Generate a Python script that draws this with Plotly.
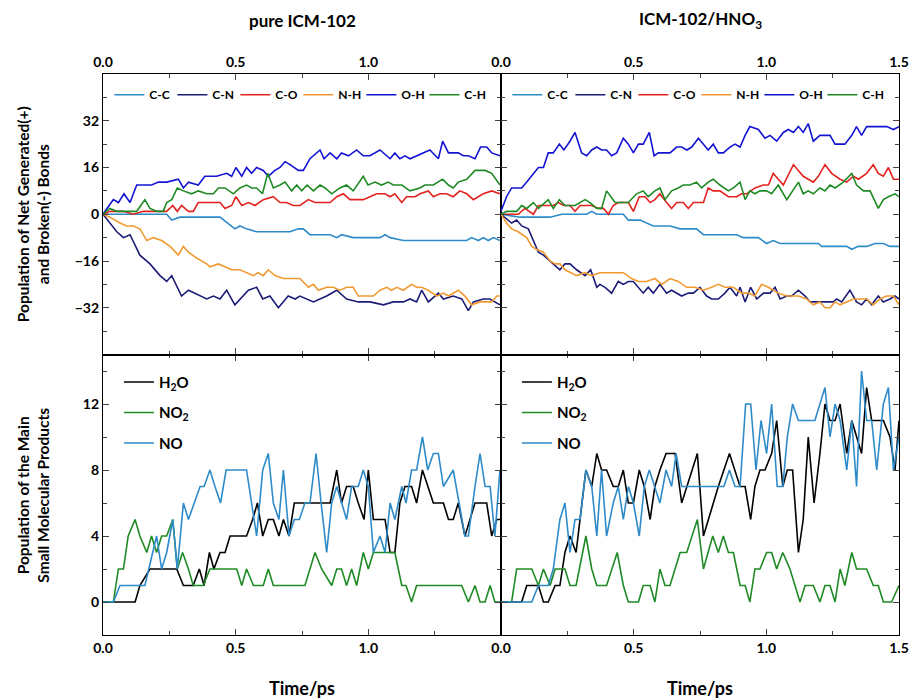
import plotly.graph_objects as go

# ---------------- data (time in ps, population) ----------------
BOND_NAMES = ["C-C", "C-N", "C-O", "N-H", "O-H", "C-H"]
BOND_COLORS = ["#2E8BC9", "#1C1C78", "#E3231F", "#F09A30", "#1414D2", "#1F8A24"]

PURE_CC = [(0,0),(0.240,0),(0.259,-2),(0.290,-1),(0.441,-1),(0.497,-5),(0.516,-4),(0.541,-5),(0.579,-6),(0.705,-6),(0.736,-5),(0.755,-5),(0.780,-7),(0.856,-7),(0.881,-8),(0.899,-7),(0.943,-8),(1.044,-8),(1.063,-7),(1.082,-8),(1.132,-9),(1.371,-9),(1.389,-8),(1.415,-9),(1.433,-8),(1.452,-9),(1.471,-8),(1.496,-9)]
PURE_CN = [(0,0),(0.026,-3),(0.052,-6),(0.077,-8),(0.102,-7),(0.139,-14),(0.177,-17),(0.215,-21),(0.240,-23),(0.259,-21),(0.296,-28),(0.322,-26),(0.366,-28),(0.391,-29),(0.416,-28),(0.441,-29),(0.466,-26),(0.497,-31),(0.548,-26),(0.579,-25),(0.602,-29),(0.629,-28),(0.661,-32),(0.698,-28),(0.724,-29),(0.742,-28),(0.793,-30),(0.843,-28),(0.881,-26),(0.918,-29),(0.962,-30),(1.006,-30),(1.057,-31),(1.094,-30),(1.132,-30),(1.157,-29),(1.182,-30),(1.201,-26),(1.226,-30),(1.264,-27),(1.283,-29),(1.320,-28),(1.352,-29),(1.377,-33),(1.396,-30),(1.433,-29),(1.458,-29),(1.496,-31)]
PURE_CO = [(0,0),(0.026,1),(0.052,1),(0.077,1),(0.114,0),(0.152,1),(0.190,1),(0.240,1),(0.263,3),(0.280,1),(0.296,3),(0.322,1),(0.340,1),(0.359,4),(0.403,4),(0.441,4),(0.460,2),(0.485,3),(0.501,6),(0.523,3),(0.548,4),(0.573,3),(0.604,5),(0.642,6),(0.667,4),(0.692,4),(0.717,3),(0.742,3),(0.774,5),(0.799,4),(0.824,4),(0.856,4),(0.881,6),(0.906,7),(0.931,5),(0.956,5),(0.981,5),(1.006,6),(1.031,7),(1.063,7),(1.082,6),(1.100,7),(1.126,4),(1.144,6),(1.176,6),(1.195,7),(1.226,8),(1.245,6),(1.270,7),(1.295,7),(1.320,6),(1.345,8),(1.371,7),(1.396,5),(1.433,7),(1.465,8),(1.496,7)]
PURE_NH = [(0,0),(0.026,-1),(0.064,-3),(0.089,-4),(0.114,-4),(0.139,-5),(0.165,-9),(0.190,-8),(0.221,-9),(0.253,-11),(0.284,-14),(0.303,-11),(0.322,-13),(0.353,-15),(0.391,-17),(0.403,-18),(0.435,-17),(0.460,-18),(0.485,-19),(0.516,-19),(0.541,-20),(0.567,-21),(0.585,-20),(0.604,-21),(0.623,-19),(0.648,-21),(0.680,-22),(0.705,-22),(0.742,-22),(0.774,-25),(0.793,-24),(0.812,-26),(0.843,-25),(0.868,-25),(0.893,-26),(0.918,-25),(0.943,-25),(0.962,-28),(0.994,-28),(1.019,-28),(1.044,-26),(1.069,-25),(1.088,-26),(1.107,-25),(1.132,-26),(1.163,-24),(1.182,-25),(1.201,-25),(1.226,-26),(1.258,-28),(1.283,-27),(1.302,-28),(1.339,-26),(1.364,-28),(1.389,-31),(1.421,-30),(1.465,-30),(1.484,-28),(1.496,-28)]
PURE_OH = [(0,0),(0.039,5),(0.058,4),(0.079,7),(0.102,4),(0.127,10),(0.146,10),(0.165,10),(0.183,10),(0.209,11),(0.240,11),(0.284,12),(0.303,9),(0.322,11),(0.359,10),(0.384,13),(0.428,13),(0.466,14),(0.485,13),(0.501,16),(0.523,13),(0.541,16),(0.560,14),(0.579,16),(0.604,15),(0.623,13),(0.648,15),(0.667,16),(0.686,18),(0.705,17),(0.736,15),(0.755,15),(0.780,19),(0.818,22),(0.833,19),(0.856,21),(0.881,19),(0.899,21),(0.925,20),(0.956,22),(0.981,20),(1.006,20),(1.044,22),(1.082,19),(1.100,21),(1.119,19),(1.138,20),(1.157,19),(1.182,20),(1.207,21),(1.232,22),(1.264,19),(1.280,25),(1.302,21),(1.339,21),(1.358,20),(1.377,20),(1.402,19),(1.423,23),(1.446,23),(1.465,21),(1.496,20)]
PURE_CH = [(0,0),(0.026,2),(0.052,1),(0.083,1),(0.102,1),(0.127,1),(0.158,5),(0.177,2),(0.202,1),(0.227,1),(0.240,4),(0.259,5),(0.280,9),(0.303,8),(0.334,7),(0.359,8),(0.391,7),(0.416,7),(0.435,9),(0.460,9),(0.491,7),(0.516,9),(0.541,10),(0.560,9),(0.579,9),(0.601,7),(0.621,14),(0.642,9),(0.667,10),(0.686,11),(0.711,8),(0.730,10),(0.749,8),(0.769,10),(0.793,8),(0.818,10),(0.837,9),(0.862,7),(0.893,9),(0.918,10),(0.943,8),(0.981,13),(0.999,10),(1.025,11),(1.050,10),(1.075,11),(1.094,10),(1.126,10),(1.157,8),(1.194,9),(1.213,10),(1.245,10),(1.280,12),(1.302,10),(1.320,9),(1.339,11),(1.371,12),(1.402,15),(1.440,15),(1.465,14),(1.496,10)]

HNO3_CC = [(0,0),(0.072,-1),(0.185,-1),(0.229,0),(0.323,0),(0.342,1),(0.361,0),(0.461,0),(0.480,-2),(0.524,-2),(0.574,-4),(0.637,-4),(0.675,-5),(0.737,-5),(0.763,-7),(0.888,-7),(0.913,-8),(0.970,-8),(1.001,-10),(1.026,-9),(1.052,-10),(1.196,-10),(1.209,-11),(1.303,-11),(1.322,-12),(1.347,-11),(1.378,-11),(1.410,-10),(1.441,-10),(1.466,-11),(1.500,-11)]
HNO3_CN = [(0,0),(0.028,-2),(0.040,-3),(0.059,-2),(0.078,-4),(0.103,-5),(0.122,-9),(0.141,-13),(0.160,-14),(0.185,-16),(0.210,-18),(0.222,-19),(0.241,-17),(0.260,-17),(0.285,-19),(0.317,-21),(0.338,-19),(0.361,-25),(0.373,-24),(0.392,-25),(0.417,-27),(0.442,-23),(0.461,-24),(0.480,-23),(0.499,-23),(0.536,-27),(0.555,-25),(0.574,-27),(0.599,-24),(0.624,-27),(0.643,-26),(0.662,-27),(0.681,-28),(0.706,-27),(0.725,-27),(0.750,-25),(0.775,-28),(0.794,-29),(0.819,-29),(0.844,-27),(0.863,-25),(0.888,-28),(0.901,-25),(0.920,-30),(0.941,-25),(0.964,-29),(0.989,-27),(1.014,-27),(1.033,-25),(1.052,-29),(1.077,-28),(1.095,-28),(1.121,-26),(1.146,-28),(1.165,-30),(1.253,-30),(1.265,-29),(1.284,-30),(1.315,-26),(1.340,-30),(1.359,-31),(1.378,-29),(1.397,-31),(1.422,-28),(1.441,-30),(1.466,-29),(1.485,-28),(1.500,-29)]
HNO3_CO = [(0,0),(0.040,0),(0.065,0),(0.090,2),(0.122,0),(0.141,3),(0.178,3),(0.197,3),(0.216,4),(0.237,3),(0.260,3),(0.279,1),(0.298,3),(0.317,3),(0.342,3),(0.367,2),(0.386,2),(0.405,0),(0.423,3),(0.442,4),(0.480,4),(0.499,1),(0.521,6),(0.543,6),(0.562,4),(0.580,5),(0.599,7),(0.624,4),(0.643,2),(0.662,4),(0.687,4),(0.706,2),(0.725,4),(0.763,4),(0.781,9),(0.800,8),(0.825,8),(0.857,6),(0.888,6),(0.907,7),(0.926,7),(0.957,9),(0.989,10),(1.008,10),(1.026,14),(1.045,12),(1.064,10),(1.102,17),(1.121,15),(1.139,13),(1.158,12),(1.177,11),(1.196,13),(1.221,17),(1.246,14),(1.278,12),(1.303,11),(1.328,13),(1.347,12),(1.378,14),(1.403,17),(1.422,14),(1.441,13),(1.460,16),(1.479,12),(1.500,12)]
HNO3_NH = [(0,0),(0.021,-3),(0.040,-5),(0.065,-6),(0.097,-8),(0.116,-11),(0.134,-12),(0.160,-13),(0.185,-16),(0.204,-17),(0.222,-17),(0.241,-19),(0.285,-21),(0.317,-20),(0.342,-21),(0.373,-20),(0.398,-20),(0.430,-20),(0.461,-20),(0.492,-22),(0.518,-23),(0.549,-23),(0.580,-22),(0.606,-24),(0.637,-22),(0.668,-23),(0.700,-25),(0.731,-25),(0.763,-26),(0.794,-25),(0.819,-24),(0.844,-25),(0.876,-25),(0.907,-27),(0.932,-27),(0.957,-28),(0.982,-24),(1.008,-25),(1.045,-27),(1.077,-28),(1.121,-28),(1.152,-29),(1.177,-31),(1.202,-30),(1.221,-32),(1.240,-32),(1.259,-30),(1.278,-31),(1.303,-30),(1.328,-29),(1.353,-29),(1.378,-29),(1.403,-31),(1.428,-29),(1.454,-28),(1.479,-28),(1.500,-31)]
HNO3_OH = [(0,1),(0.021,6),(0.040,9),(0.078,9),(0.097,11),(0.122,14),(0.141,16),(0.160,16),(0.178,21),(0.197,21),(0.220,24),(0.237,22),(0.260,25),(0.279,28),(0.304,21),(0.323,20),(0.342,22),(0.361,23),(0.379,22),(0.398,22),(0.417,20),(0.436,21),(0.461,26),(0.480,24),(0.499,21),(0.518,24),(0.536,24),(0.559,28),(0.577,20),(0.593,21),(0.637,21),(0.662,23),(0.681,23),(0.700,22),(0.719,23),(0.744,26),(0.763,24),(0.781,22),(0.800,24),(0.819,21),(0.838,21),(0.863,23),(0.882,24),(0.901,23),(0.920,27),(0.938,30),(0.970,29),(0.995,26),(1.014,27),(1.039,25),(1.064,28),(1.083,29),(1.102,28),(1.121,30),(1.139,28),(1.158,31),(1.177,25),(1.202,27),(1.221,27),(1.240,27),(1.259,24),(1.296,24),(1.322,27),(1.340,30),(1.359,27),(1.378,30),(1.454,30),(1.479,29),(1.500,30)]
HNO3_CH = [(0,0),(0.021,1),(0.059,1),(0.078,3),(0.097,2),(0.122,4),(0.141,2),(0.178,5),(0.197,2),(0.220,5),(0.241,3),(0.279,3),(0.317,5),(0.335,4),(0.361,2),(0.379,2),(0.398,8),(0.430,4),(0.480,4),(0.511,7),(0.536,8),(0.555,6),(0.580,8),(0.599,9),(0.618,5),(0.643,8),(0.668,9),(0.687,10),(0.712,10),(0.737,11),(0.756,9),(0.781,11),(0.800,12),(0.825,10),(0.857,8),(0.876,9),(0.901,11),(0.920,5),(0.938,8),(0.957,7),(0.976,8),(1.001,8),(1.020,7),(1.045,10),(1.077,5),(1.121,11),(1.139,7),(1.158,8),(1.177,7),(1.202,9),(1.221,8),(1.240,10),(1.259,9),(1.290,11),(1.322,14),(1.340,10),(1.366,8),(1.391,8),(1.422,2),(1.441,5),(1.460,6),(1.485,7),(1.500,6)]

PRODUCT_NAMES = ["H<sub>2</sub>O", "NO<sub>2</sub>", "NO"]
PRODUCT_COLORS = ["#000000", "#1F8A24", "#2E8BC9"]

PURE_H2O = [(0,0),(0.121,0),(0.139,1),(0.177,2),(0.278,2),(0.303,1),(0.340,1),(0.363,2),(0.381,1),(0.401,3),(0.418,2),(0.441,3),(0.460,3),(0.479,4),(0.541,4),(0.564,5),(0.582,6),(0.602,4),(0.623,5),(0.642,5),(0.663,4),(0.680,5),(0.701,4),(0.721,6),(0.856,6),(0.881,8),(0.899,6),(0.918,7),(0.943,7),(0.962,6),(0.984,5),(1.000,8),(1.019,5),(1.063,5),(1.082,3),(1.100,3),(1.119,6),(1.138,7),(1.163,7),(1.182,6),(1.204,8),(1.245,6),(1.283,6),(1.302,5),(1.320,5),(1.339,6),(1.364,4),(1.402,6),(1.421,6),(1.446,6),(1.465,4),(1.484,5),(1.496,5)]
PURE_NO2 = [(0,0),(0.039,0),(0.058,2),(0.077,2),(0.095,4),(0.121,5),(0.139,4),(0.165,3),(0.183,4),(0.202,3),(0.221,4),(0.240,4),(0.263,5),(0.280,2),(0.300,3),(0.322,2),(0.340,1),(0.378,1),(0.403,2),(0.504,2),(0.523,1),(0.541,2),(0.567,1),(0.604,1),(0.623,2),(0.642,1),(0.761,1),(0.799,3),(0.824,2),(0.862,1),(0.881,2),(0.899,2),(0.918,1),(0.937,2),(0.956,1),(0.981,3),(1.000,2),(1.019,3),(1.100,3),(1.126,1),(1.142,1),(1.163,0),(1.182,1),(1.352,1),(1.377,0),(1.402,1),(1.421,0),(1.440,0),(1.459,1),(1.477,0),(1.496,0)]
PURE_NO = [(0,0),(0.039,0),(0.064,1),(0.158,1),(0.202,4),(0.221,2),(0.240,3),(0.263,5),(0.280,2),(0.303,6),(0.322,5),(0.366,7),(0.381,7),(0.403,8),(0.422,7),(0.443,6),(0.464,8),(0.541,8),(0.579,4),(0.602,8),(0.623,9),(0.642,6),(0.663,5),(0.680,8),(0.701,4),(0.721,5),(0.740,5),(0.761,6),(0.780,6),(0.803,9),(0.822,6),(0.843,3),(0.862,6),(0.881,7),(0.918,5),(0.937,7),(0.962,7),(0.981,8),(1.000,7),(1.019,3),(1.044,4),(1.063,3),(1.082,6),(1.100,5),(1.126,7),(1.142,6),(1.163,8),(1.182,8),(1.204,10),(1.224,8),(1.245,9),(1.264,9),(1.283,7),(1.320,8),(1.364,4),(1.377,4),(1.402,7),(1.421,9),(1.440,7),(1.459,7),(1.477,4),(1.496,8)]

HNO3_H2O = [(0,0),(0.078,0),(0.097,1),(0.141,1),(0.160,0),(0.178,0),(0.204,1),(0.222,1),(0.241,3),(0.260,4),(0.283,3),(0.298,5),(0.320,8),(0.342,7),(0.361,9),(0.379,8),(0.398,8),(0.423,7),(0.442,7),(0.461,8),(0.480,6),(0.499,6),(0.521,8),(0.540,7),(0.562,5),(0.580,7),(0.599,8),(0.622,9),(0.656,9),(0.681,6),(0.700,7),(0.740,9),(0.763,4),(0.781,5),(0.800,6),(0.819,7),(0.861,9),(0.882,8),(0.901,7),(0.920,7),(0.941,5),(0.957,7),(0.976,8),(0.995,8),(1.020,9),(1.039,11),(1.062,7),(1.079,8),(1.099,8),(1.121,3),(1.139,5),(1.158,10),(1.180,6),(1.202,9),(1.221,12),(1.240,11),(1.259,11),(1.278,12),(1.303,9),(1.322,11),(1.359,9),(1.378,13),(1.397,11),(1.441,11),(1.466,10),(1.485,8),(1.500,11)]
HNO3_NO2 = [(0,0),(0.040,0),(0.059,2),(0.116,2),(0.141,1),(0.160,2),(0.185,1),(0.204,2),(0.241,2),(0.260,1),(0.283,1),(0.320,4),(0.342,2),(0.361,1),(0.398,1),(0.438,3),(0.461,1),(0.480,0),(0.518,0),(0.536,1),(0.562,1),(0.580,0),(0.599,2),(0.618,1),(0.637,1),(0.675,3),(0.700,3),(0.740,5),(0.763,2),(0.798,4),(0.819,3),(0.838,4),(0.857,3),(0.876,3),(0.901,1),(0.920,1),(0.938,0),(0.957,2),(0.976,2),(1.001,3),(1.020,3),(1.039,2),(1.062,3),(1.089,2),(1.108,1),(1.127,0),(1.146,1),(1.177,1),(1.202,0),(1.221,1),(1.240,1),(1.259,0),(1.278,2),(1.296,1),(1.322,3),(1.340,2),(1.378,2),(1.403,1),(1.422,1),(1.441,0),(1.472,0),(1.500,1)]
HNO3_NO = [(0,0),(0.116,0),(0.141,1),(0.178,1),(0.197,2),(0.222,5),(0.241,6),(0.260,3),(0.279,5),(0.298,5),(0.320,8),(0.342,7),(0.361,4),(0.379,8),(0.398,4),(0.423,6),(0.442,7),(0.461,5),(0.480,7),(0.499,6),(0.521,4),(0.540,7),(0.559,8),(0.580,7),(0.599,6),(0.622,8),(0.643,7),(0.660,9),(0.681,7),(0.819,7),(0.840,7),(0.861,8),(0.882,7),(0.901,7),(0.922,12),(0.941,12),(0.961,8),(0.980,11),(1.001,9),(1.020,12),(1.041,7),(1.062,7),(1.079,10),(1.099,12),(1.121,11),(1.183,11),(1.221,13),(1.240,10),(1.259,12),(1.278,11),(1.303,8),(1.322,11),(1.340,7),(1.359,14),(1.378,11),(1.397,11),(1.416,8),(1.441,12),(1.460,13),(1.479,8),(1.500,10)]

PANEL_TITLES = ["pure ICM-102", "ICM-102/HNO<sub>3</sub>"]
X_TICKS_LEFT = [0.0, 0.5, 1.0]
X_TICKS_RIGHT = [0.0, 0.5, 1.0, 1.5]
BOND_TICKS = [-32, -16, 0, 16, 32]
PROD_TICKS = [0, 4, 8, 12]

FONT = "Lato"

fig = go.Figure()

def add_series(pairs, name, color, xa, ya, leg, group):
    fig.add_trace(go.Scatter(
        x=[p[0] for p in pairs], y=[p[1] for p in pairs], mode="lines", name=name,
        line=dict(color=color, width=1.6), xaxis=xa, yaxis=ya, legend=leg,
        legendgroup=group))

for name, color, d in zip(BOND_NAMES, BOND_COLORS,
                          [PURE_CC, PURE_CN, PURE_CO, PURE_NH, PURE_OH, PURE_CH]):
    add_series(d, name, color, "x3", "y3", "legend", "a" + name)
for name, color, d in zip(BOND_NAMES, BOND_COLORS,
                          [HNO3_CC, HNO3_CN, HNO3_CO, HNO3_NH, HNO3_OH, HNO3_CH]):
    add_series(d, name, color, "x4", "y4", "legend2", "b" + name)
for name, color, d in zip(PRODUCT_NAMES, PRODUCT_COLORS, [PURE_H2O, PURE_NO2, PURE_NO]):
    add_series(d, name, color, "x", "y", "legend3", "c" + name)
for name, color, d in zip(PRODUCT_NAMES, PRODUCT_COLORS, [HNO3_H2O, HNO3_NO2, HNO3_NO]):
    add_series(d, name, color, "x2", "y2", "legend4", "d" + name)

tickfont = dict(family=FONT, size=14, color="black", weight="bold")

def xax(domain, anchor, ticks, side, labels=True):
    return dict(domain=domain, anchor=anchor, range=[0, 1.5], side=side,
                tickvals=ticks, ticktext=[f"{t:.1f}" for t in ticks],
                showticklabels=labels, ticks="inside", ticklen=6, tickwidth=1.2,
                showline=True, linecolor="black", linewidth=1.2, mirror="ticks",
                showgrid=False, zeroline=False, tickfont=tickfont,
                minor=dict(ticks="inside", ticklen=3.5, dtick=0.25, tick0=0,
                           showgrid=False, tickwidth=1.1))

def yax(domain, anchor, rng, ticks, minor, labels):
    return dict(domain=domain, anchor=anchor, range=rng, tickvals=ticks,
                showticklabels=labels, ticks="inside", ticklen=6, tickwidth=1.2,
                showline=True, linecolor="black", linewidth=1.2, mirror="ticks",
                showgrid=False, zeroline=False, tickfont=tickfont,
                minor=dict(ticks="inside", ticklen=3.5, dtick=minor, tick0=0,
                           showgrid=False, tickwidth=1.1))

leg_common = dict(font=dict(family=FONT, size=12, color="black", weight="bold"),
                  bgcolor="rgba(0,0,0,0)", orientation="h", itemwidth=30,
                  entrywidth=18, xanchor="left", yanchor="middle", y=0.963,
                  itemclick=False)
leg_prod = dict(font=dict(family=FONT, size=15, color="black", weight="bold"),
                bgcolor="rgba(0,0,0,0)", orientation="v", itemwidth=30,
                tracegroupgap=8, xanchor="left", yanchor="top", y=0.48)

fig.update_layout(
    width=912, height=698,
    margin=dict(l=103, r=13, t=74, b=63, autoexpand=False),
    paper_bgcolor="white", plot_bgcolor="white",
    font=dict(family=FONT, color="black"),
    xaxis=xax([0, 0.5], "y", X_TICKS_LEFT, "bottom"),
    xaxis2=xax([0.5, 1], "y2", X_TICKS_RIGHT, "bottom"),
    xaxis3=xax([0, 0.5], "y3", X_TICKS_LEFT, "top"),
    xaxis4=xax([0.5, 1], "y4", X_TICKS_RIGHT, "top"),
    yaxis=yax([0, 0.5], "x", [-2, 15], PROD_TICKS, 2, True),
    yaxis2=yax([0, 0.5], "x2", [-2, 15], PROD_TICKS, 2, False),
    yaxis3=yax([0.5, 1], "x3", [-48, 48], BOND_TICKS, 8, True),
    yaxis4=yax([0.5, 1], "x4", [-48, 48], BOND_TICKS, 8, False),
    legend=dict(leg_common, x=0.008),
    legend2=dict(leg_common, x=0.508),
    legend3=dict(leg_prod, x=0.02),
    legend4=dict(leg_prod, x=0.52),
    showlegend=True,
)

ann_font = dict(family=FONT, size=17, color="black", weight="bold")
for i, t in enumerate(PANEL_TITLES):
    fig.add_annotation(text=t, x=0.25 + 0.5 * i, y=1.096, xref="paper", yref="paper",
                       showarrow=False, font=ann_font, xanchor="center", yanchor="middle")
    fig.add_annotation(text="Time/ps", x=0.25 + 0.5 * i, y=-0.094, xref="paper", yref="paper",
                       showarrow=False, font=dict(ann_font, size=18),
                       xanchor="center", yanchor="middle")

ytitle_font = dict(family=FONT, size=15.5, color="black", weight="bold")
fig.add_annotation(text="Population of Net Generated(+)<br>and Broken(-) Bonds",
                   x=-0.088, y=0.75, xref="paper", yref="paper", textangle=-90,
                   showarrow=False, font=ytitle_font, xanchor="center", yanchor="middle")
fig.add_annotation(text="Population of the Main<br>Small Molecular Products",
                   x=-0.088, y=0.25, xref="paper", yref="paper", textangle=-90,
                   showarrow=False, font=ytitle_font, xanchor="center", yanchor="middle")

fig.write_html("out.html")
